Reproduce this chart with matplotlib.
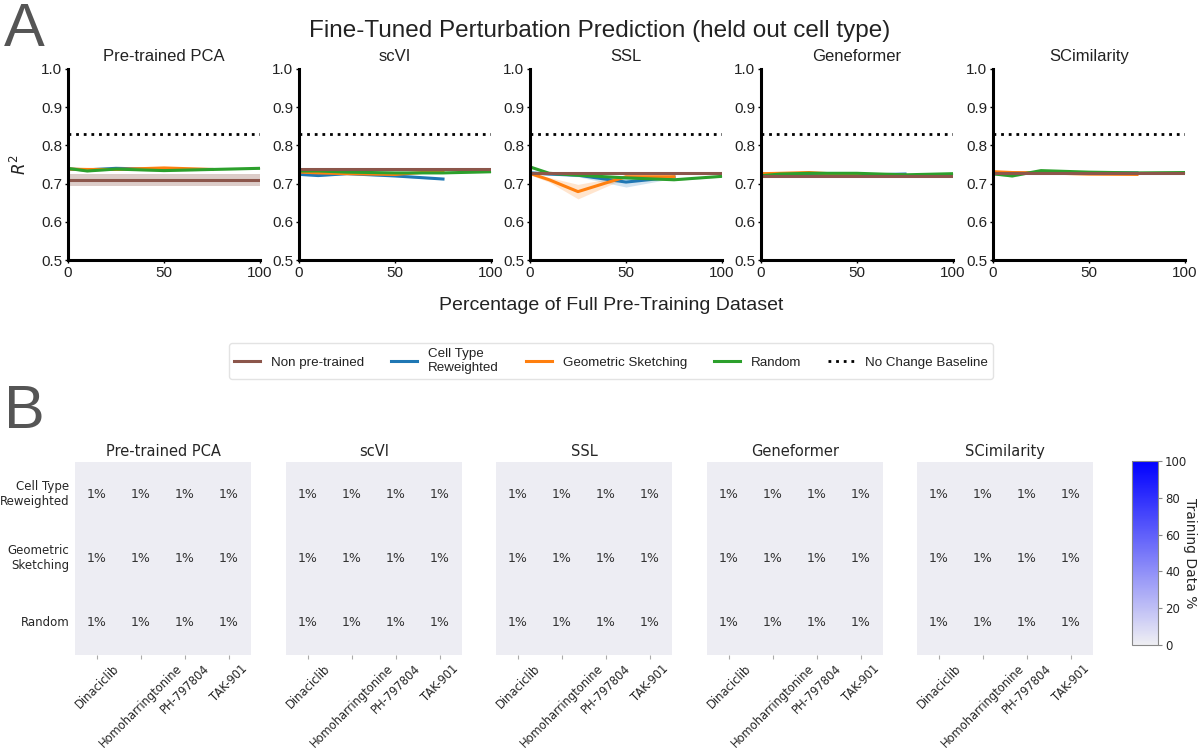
import numpy as np
import matplotlib
matplotlib.use("Agg")
import matplotlib.pyplot as plt
import seaborn as sns
from matplotlib.colors import LinearSegmentedColormap
from matplotlib.lines import Line2D
from matplotlib.cm import ScalarMappable
from matplotlib.colors import Normalize

# ---- data (panel A) ----
models = ["Pre-trained PCA", "scVI", "SSL", "Geneformer", "SCimilarity"]
pct_sub = [1, 10, 25, 50, 75]          # cell type reweighted / geometric sketching
pct_rand = [1, 10, 25, 50, 75, 100]    # random
pct_full = [0, 100]                    # horizontal references

non_pretrained = [0.709, 0.738, 0.729, 0.721, 0.727]
non_pretrained_sd = [0.016, 0.002, 0.002, 0.002, 0.002]
no_change = 0.83

cell_type = [
    [0.738, 0.736, 0.740, 0.737, 0.737],
    [0.724, 0.721, 0.726, 0.720, 0.712],
    [0.728, 0.725, 0.722, 0.704, 0.717],
    [0.725, 0.724, 0.725, 0.722, 0.725],
    [0.726, 0.727, 0.728, 0.728, 0.728],
]
cell_type_sd = [
    [0.002, 0.002, 0.002, 0.002, 0.002],
    [0.003, 0.002, 0.002, 0.002, 0.002],
    [0.003, 0.003, 0.004, 0.013, 0.003],
    [0.002, 0.002, 0.002, 0.002, 0.002],
    [0.002, 0.002, 0.002, 0.002, 0.002],
]
geo_sketch = [
    [0.738, 0.737, 0.737, 0.741, 0.737],
    [0.730, 0.728, 0.726, 0.724, 0.733],
    [0.725, 0.710, 0.679, 0.718, 0.718],
    [0.726, 0.727, 0.729, 0.722, 0.722],
    [0.731, 0.729, 0.728, 0.725, 0.724],
]
geo_sketch_sd = [
    [0.002, 0.002, 0.002, 0.003, 0.002],
    [0.002, 0.002, 0.002, 0.002, 0.002],
    [0.004, 0.006, 0.019, 0.003, 0.003],
    [0.002, 0.002, 0.002, 0.002, 0.002],
    [0.002, 0.002, 0.002, 0.003, 0.002],
]
random_sel = [
    [0.739, 0.733, 0.738, 0.734, 0.737, 0.740],
    [0.733, 0.733, 0.730, 0.728, 0.728, 0.731],
    [0.742, 0.727, 0.722, 0.715, 0.710, 0.719],
    [0.721, 0.725, 0.727, 0.727, 0.723, 0.726],
    [0.725, 0.720, 0.734, 0.730, 0.728, 0.729],
]
random_sd = [
    [0.002, 0.002, 0.002, 0.002, 0.002, 0.002],
    [0.002, 0.002, 0.002, 0.002, 0.002, 0.002],
    [0.003, 0.003, 0.003, 0.003, 0.002, 0.002],
    [0.002, 0.002, 0.002, 0.002, 0.002, 0.002],
    [0.002, 0.003, 0.002, 0.002, 0.002, 0.002],
]

# ---- data (panel B) ----
perturbations = ["Dinaciclib", "Homoharringtonine", "PH-797804", "TAK-901"]
strategies = ["Cell Type\nReweighted", "Geometric\nSketching", "Random"]
training_pct = [
    [1, 1, 1, 1],
    [1, 1, 1, 1],
    [1, 1, 1, 1],
]

C_BROWN = "#8c564b"
C_BLUE = "#1f77b4"
C_ORANGE = "#ff7f0e"
C_GREEN = "#2ca02c"
DOTS = (0, (1, 1.75))

W, H = 1200, 752
fig = plt.figure(figsize=(12, 7.52), dpi=100)


def px_axes(x0, y0, x1, y1):
    # pixel box (top-left origin) -> figure axes
    return fig.add_axes([x0 / W, 1 - y1 / H, (x1 - x0) / W, (y1 - y0) / H])


top_font = "Liberation Sans"
bot_font = "DejaVu Sans"
txt = "#222222"

# ---- panel A ----
lefts = [68, 299, 530, 761, 993]
for i, m in enumerate(models):
    ax = px_axes(lefts[i], 69, lefts[i] + 192, 260)
    series = [
        (pct_sub, cell_type[i], cell_type_sd[i], C_BLUE),
        (pct_sub, geo_sketch[i], geo_sketch_sd[i], C_ORANGE),
        (pct_rand, random_sel[i], random_sd[i], C_GREEN),
    ]
    for xs, ys, sd, c in series:
        ys = np.array(ys)
        sd = np.array(sd)
        ax.fill_between(xs, ys - sd, ys + sd, color=c, alpha=0.2, lw=0)
        ax.plot(xs, ys, color=c, lw=2.2)
    v = non_pretrained[i]
    s = non_pretrained_sd[i]
    ax.fill_between(pct_full, [v - s] * 2, [v + s] * 2, color=C_BROWN, alpha=0.3, lw=0)
    ax.plot(pct_full, [v, v], color=C_BROWN, lw=2.2)
    ax.plot(pct_full, [no_change, no_change], color="black", lw=2.0, ls=DOTS)

    ax.set_xlim(0, 100)
    ax.set_ylim(0.5, 1.0)
    ax.set_xticks([0, 50, 100])
    ax.set_yticks([0.5, 0.6, 0.7, 0.8, 0.9, 1.0])
    for sp in ["top", "right"]:
        ax.spines[sp].set_visible(False)
    for sp in ["left", "bottom"]:
        ax.spines[sp].set_linewidth(2.2)
        ax.spines[sp].set_color("black")
    ax.tick_params(length=2, width=1, pad=2, labelsize=11, labelcolor=txt)
    for lab in ax.get_xticklabels() + ax.get_yticklabels():
        lab.set_fontfamily(top_font)
    ax.set_title(m, fontsize=12, family=top_font, color=txt, pad=6)
    if i == 0:
        ax.set_ylabel("$R^2$", fontsize=12, color=txt, labelpad=8)

fig.text(0.5, 1 - 31 / H, "Fine-Tuned Perturbation Prediction (held out cell type)",
         ha="center", va="center", fontsize=17.5, family=top_font, color=txt)
fig.text(611 / W, 1 - 305 / H, "Percentage of Full Pre-Training Dataset",
         ha="center", va="center", fontsize=14, family=top_font, color=txt)
fig.text(4 / W, 1 - 30 / H, "A", ha="left", va="center", fontsize=44,
         family=top_font, color="#555555")
fig.text(4 / W, 1 - 412 / H, "B", ha="left", va="center", fontsize=44,
         family=top_font, color="#555555")

handles = [
    Line2D([], [], color=C_BROWN, lw=2.2),
    Line2D([], [], color=C_BLUE, lw=2.2),
    Line2D([], [], color=C_ORANGE, lw=2.2),
    Line2D([], [], color=C_GREEN, lw=2.2),
    Line2D([], [], color="black", lw=2.0, ls=DOTS),
]
labels = ["Non pre-trained", "Cell Type\nReweighted", "Geometric Sketching",
          "Random", "No Change Baseline"]
leg = fig.legend(handles, labels, loc="center", bbox_to_anchor=(611 / W, 1 - 361 / H),
                 ncol=5, frameon=True, fancybox=True,
                 prop={"family": top_font, "size": 9.6}, edgecolor="#dddddd",
                 handlelength=2.0, columnspacing=2.0, borderpad=0.35)
for t in leg.get_texts():
    t.set_color(txt)

# ---- panel B ----
cmap = LinearSegmentedColormap.from_list("train", ["#efeff3", "#0000ff"])
annot = np.array([[f"{v}%" for v in row] for row in training_pct])
hm_lefts = [75, 286, 496, 707, 917]
for i, m in enumerate(models):
    ax = px_axes(hm_lefts[i], 462, hm_lefts[i] + 176, 655)
    sns.heatmap(np.array(training_pct), ax=ax, cmap=cmap, vmin=0, vmax=100,
                annot=annot, fmt="", cbar=False,
                annot_kws={"fontsize": 9, "color": "#333333", "family": bot_font})
    ax.set_xticks(np.arange(len(perturbations)) + 0.5)
    ax.set_xticklabels(perturbations, rotation=45, ha="center",
                       fontsize=8.3, family=bot_font, color="#262626")
    if i == 0:
        ax.set_yticks(np.arange(len(strategies)) + 0.5)
        ax.set_yticklabels(strategies, rotation=0, fontsize=8.5, family=bot_font,
                           color="#262626")
        ax.tick_params(axis="y", length=0, pad=4)
    else:
        ax.set_yticks([])
    ax.tick_params(axis="x", length=3, width=0.8, color="#aaaaaa", pad=2)
    ax.set_title(m, fontsize=10.5, family=bot_font, color="#262626", pad=4)

cax = px_axes(1132, 461, 1158, 645)
cb = fig.colorbar(ScalarMappable(norm=Normalize(0, 100), cmap=cmap), cax=cax,
                  ticks=[0, 20, 40, 60, 80, 100])
cb.outline.set_edgecolor("#888888")
cb.outline.set_linewidth(0.8)
cax.tick_params(labelsize=8.5, length=3, color="#888888", labelcolor="#262626", pad=2)
cb.set_label("Training Data %", rotation=270, labelpad=7, fontsize=10,
             family=bot_font, color="#262626")

fig.savefig("out.png", dpi=100)
